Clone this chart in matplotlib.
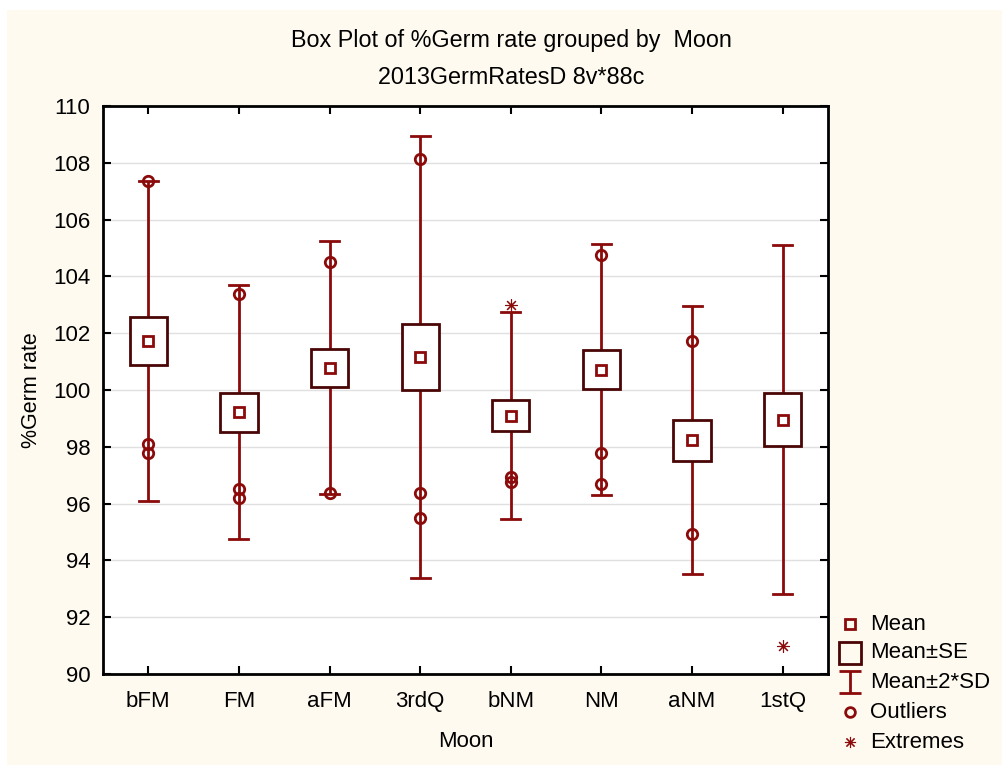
import matplotlib
matplotlib.use("Agg")
import matplotlib.pyplot as plt
from matplotlib.lines import Line2D
from matplotlib.patches import Rectangle
from matplotlib.path import Path

categories = ["bFM", "FM", "aFM", "3rdQ", "bNM", "NM", "aNM", "1stQ"]
means = [101.73, 99.22, 100.79, 101.16, 99.10, 100.71, 98.23, 98.96]
se = [0.855, 0.69, 0.67, 1.175, 0.55, 0.685, 0.715, 0.92]
two_sd = [5.63, 4.47, 4.455, 7.79, 3.63, 4.415, 4.715, 6.16]
outliers = [
    [107.35, 98.09, 97.79],
    [103.39, 96.53, 96.21],
    [104.51, 96.38],
    [108.12, 96.38, 95.51],
    [96.92, 96.76],
    [104.74, 97.79, 96.68],
    [101.73, 94.94],
    [],
]
extremes = [[], [], [], [], [103.0], [], [], [91.0]]
yticks = [90, 92, 94, 96, 98, 100, 102, 104, 106, 108, 110]

RED = "#8B0A0A"
DARK = "#4A0505"
CREAM = "#FEFAEF"
FONT = "Liberation Sans"

plt.rcParams["font.family"] = [FONT, "DejaVu Sans"]

fig = plt.figure(figsize=(10.03, 7.65), dpi=100)
fig.patch.set_facecolor("white")
fig.add_artist(Rectangle((7 / 1003, 0), 1 - 7 / 1003, 1 - 10 / 765,
                         transform=fig.transFigure, facecolor=CREAM,
                         edgecolor="none", zorder=-10))

ax = fig.add_axes([103 / 1003, 91 / 765, 725 / 1003, 568 / 765])
ax.set_facecolor("white")

ibeam = Path([(-1, 1), (1, 1), (0, 1), (0, -1), (-1, -1), (1, -1)],
             [Path.MOVETO, Path.LINETO, Path.MOVETO, Path.LINETO, Path.MOVETO, Path.LINETO])

box_w = 0.41
cap_w = 0.21
for i, (m, s, d) in enumerate(zip(means, se, two_sd)):
    ax.plot([i, i], [m - d, m - s], color=RED, lw=2, zorder=3, solid_capstyle="butt")
    ax.plot([i, i], [m + s, m + d], color=RED, lw=2, zorder=3, solid_capstyle="butt")
    ax.plot([i - cap_w / 2, i + cap_w / 2], [m + d, m + d], color=RED, lw=2, zorder=3)
    ax.plot([i - cap_w / 2, i + cap_w / 2], [m - d, m - d], color=RED, lw=2, zorder=3)
    ax.add_patch(Rectangle((i - box_w / 2, m - s), box_w, 2 * s, facecolor="white",
                           edgecolor=DARK, lw=2, zorder=4))
    ax.plot([i], [m], marker="s", ms=7, mfc="none", mec=RED, mew=2, zorder=5)
    if outliers[i]:
        ax.plot([i] * len(outliers[i]), outliers[i], linestyle="none", marker="o",
                ms=7.5, mfc="none", mec=RED, mew=2, zorder=5)
    if extremes[i]:
        ax.plot([i] * len(extremes[i]), extremes[i], linestyle="none", marker=(8, 2, 0),
                ms=9, mec=RED, mew=0.8, zorder=5)

ax.set_xlim(-0.5, 7.5)
ax.set_ylim(90, 110)
ax.set_yticks(yticks)
ax.set_xticks(range(len(categories)))
ax.set_xticklabels(categories)
ax.yaxis.grid(True, color="#E0E0E0", lw=1)
ax.set_axisbelow(True)
ax.tick_params(direction="in", length=6, width=1.5, labelsize=16, top=True, right=True,
               colors="black")
ax.tick_params(axis="y", pad=9)
ax.tick_params(axis="x", pad=12)
for sp in ax.spines.values():
    sp.set_linewidth(2)
    sp.set_color("black")
ax.set_xlabel("Moon", fontsize=16, labelpad=14)
ax.set_ylabel("%Germ rate", fontsize=15.5, labelpad=8)

fig.text(511 / 1003, 1 - 41 / 765, "Box Plot of %Germ rate grouped by  Moon", ha="center",
         va="center", fontsize=16.8)
fig.text(511 / 1003, 1 - 78 / 765, "2013GermRatesD 8v*88c", ha="center", va="center",
         fontsize=16.8)

leg_x = 850 / 1003
txt_x = 870 / 1003
items = [
    ("Mean", dict(marker="s", ms=7, mfc="none", mec=RED, mew=2)),
    ("Mean±SE", dict(marker="s", ms=15.5, mfc="none", mec=DARK, mew=2)),
    ("Mean±2*SD", dict(marker=ibeam, ms=16, mfc="none", mec=RED, mew=2)),
    ("Outliers", dict(marker="o", ms=7, mfc="none", mec=RED, mew=2)),
    ("Extremes", dict(marker=(8, 2, 0), ms=8, mec=RED, mew=0.8)),
]
ys = [624, 653, 682, 712, 742]
for (lab, kw), yy in zip(items, ys):
    fy = 1 - yy / 765
    fig.add_artist(Line2D([leg_x], [fy], transform=fig.transFigure, linestyle="none", **kw))
    fig.text(txt_x, fy, lab, ha="left", va="center", fontsize=16)

fig.savefig("out.png", dpi=100, facecolor=fig.get_facecolor())
